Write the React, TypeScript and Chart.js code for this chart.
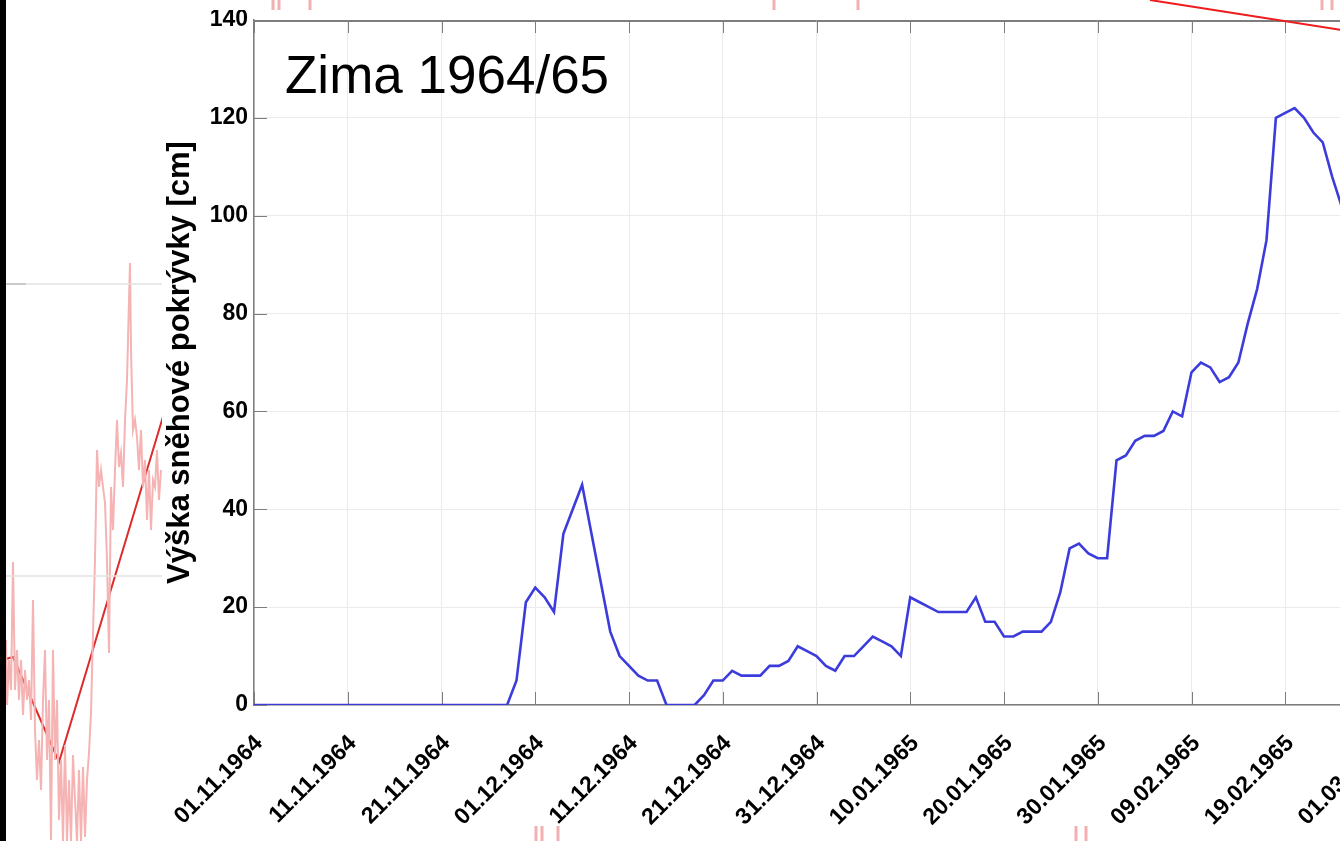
import React, { useEffect, useRef } from 'react';
import { Chart, registerables } from 'chart.js';

Chart.register(...registerables);

// ---------------- main chart data ----------------
// daily snow depth [cm], starting 01.11.1964 (day index 0)
const SNOW_DEPTH_CM: number[] = [
  0, 0, 0, 0, 0, 0, 0, 0, 0, 0,
  0, 0, 0, 0, 0, 0, 0, 0, 0, 0,
  0, 0, 0, 0, 0, 0, 0, 0, 5, 21,
  24, 22, 19, 35, 40, 45, 35, 25, 15, 10,
  8, 6, 5, 5, 0, 0, 0, 0, 2, 5,
  5, 7, 6, 6, 6, 8, 8, 9, 12, 11,
  10, 8, 7, 10, 10, 12, 14, 13, 12, 10,
  22, 21, 20, 19, 19, 19, 19, 22, 17, 17,
  14, 14, 15, 15, 15, 17, 23, 32, 33, 31,
  30, 30, 50, 51, 54, 55, 55, 56, 60, 59,
  68, 70, 69, 66, 67, 70, 78, 85, 95, 120,
  121, 122, 120, 117, 115, 108, 102, 97,
];

const X_TICK_LABELS: string[] = [
  '01.11.1964', '11.11.1964', '21.11.1964', '01.12.1964', '11.12.1964',
  '21.12.1964', '31.12.1964', '10.01.1965', '20.01.1965', '30.01.1965',
  '09.02.1965', '19.02.1965', '01.03.1965',
];
const X_TICK_STEP_DAYS = 10;
const Y_TICKS: number[] = [0, 20, 40, 60, 80, 100, 120, 140];
const Y_AXIS_TITLE = 'Výška sněhové pokrývky [cm]';
const PANEL_TEXT = 'Zima 1964/65';

// ---------------- background (partially hidden figure behind) ----------------
const PINK_X: number[] = [
  6, 7, 9, 11, 13, 15, 17, 19, 21, 23, 25, 27, 29, 31, 33, 35, 37, 39, 41, 43,
  45, 47, 49, 51, 53, 55, 57, 59, 61, 63, 65, 67, 69, 71, 73, 75, 77, 79, 81, 83,
  85, 87, 89, 91, 93, 95, 97, 99, 101, 103, 105, 107, 109, 111, 113, 115, 117, 119, 121, 123,
  125, 127, 129, 130, 131, 133, 135, 137, 139, 141, 143, 145, 147, 149, 151, 153, 155, 157, 159, 161,
];
const PINK_Y: number[] = [
  640, 705, 660, 690, 562, 690, 650, 700, 660, 715, 670, 700, 680, 720, 600, 730, 780, 740, 790, 700,
  650, 760, 700, 840, 650, 760, 700, 820, 760, 841, 745, 841, 780, 841, 755, 800, 841, 770, 841, 767,
  837, 780, 753, 713, 633, 560, 450, 487, 470, 487, 503, 560, 653, 487, 530, 470, 420, 467, 453, 487,
  420, 380, 300, 263, 350, 430, 420, 437, 470, 430, 487, 460, 520, 470, 530, 480, 487, 450, 500, 470,
];
const RED_TREND_X: number[] = [6, 13, 59, 165];
const RED_TREND_Y: number[] = [659, 657, 762, 410];
const GRAY_LINE_1 = { x: [6, 162], y: [284, 284] };
const GRAY_LINE_2 = { x: [6, 162], y: [576, 576] };
const DARK_LINE = { x: [6, 26], y: [284, 284] };
const PINK_BITS_X: number[] = [273, 273, NaN, 279, 279, NaN, 310, 310, NaN, 774, 774, NaN, 858, 858, NaN, 1322, 1322, NaN, 1332, 1332, NaN,
  536, 536, NaN, 542, 542, NaN, 558, 558, NaN, 1076, 1076, NaN, 1086, 1086];
const PINK_BITS_Y: number[] = [0, 10, NaN, 0, 10, NaN, 0, 10, NaN, 0, 10, NaN, 0, 10, NaN, 0, 10, NaN, 0, 10, NaN,
  826, 841, NaN, 826, 841, NaN, 826, 841, NaN, 826, 841, NaN, 826, 841];
const RED_TOP_X: number[] = [1150, 1345];
const RED_TOP_Y: number[] = [0, 30.5];

const AXIS_COLOR = '#7d7d7d';
const GRID_COLOR = '#ebebeb';
const LINE_COLOR = '#3c3cdc';
const TICK_LEN = 13;

const toXY = (xs: number[], ys: number[]) =>
  xs.map((x, i) => ({ x: Number.isNaN(x) ? null : x, y: Number.isNaN(ys[i]) ? null : ys[i] }));

function pixelChartConfig(datasets: any[]): any {
  return {
    type: 'line',
    data: { datasets },
    options: {
      animation: false,
      responsive: false,
      events: [],
      layout: { padding: 0 },
      plugins: { legend: { display: false }, tooltip: { enabled: false } },
      scales: {
        x: { type: 'linear', min: 0, max: 1340, display: false },
        y: { type: 'linear', min: 0, max: 841, reverse: true, display: false },
      },
      elements: { point: { radius: 0 }, line: { tension: 0 } },
    },
  };
}

const boxPlugin = {
  id: 'matlabBox',
  beforeDatasetsDraw(chart: any) {
    const { ctx, chartArea, scales } = chart;
    const { left, right, top, bottom } = chartArea;
    const xs = scales.x;
    const ys = scales.y;
    ctx.save();
    ctx.strokeStyle = AXIS_COLOR;
    ctx.lineWidth = 1;
    const seg = (x1: number, y1: number, x2: number, y2: number) => {
      ctx.beginPath();
      ctx.moveTo(x1, y1);
      ctx.lineTo(x2, y2);
      ctx.stroke();
    };
    seg(left, top + 0.5, right, top + 0.5);
    seg(left, top + 1.5, right, top + 1.5);
    xs.ticks.forEach((t: any) => {
      const px = Math.round(xs.getPixelForValue(t.value)) + 0.5;
      seg(px, bottom, px, bottom - TICK_LEN);
      seg(px, top, px, top + TICK_LEN);
    });
    ys.ticks.forEach((t: any) => {
      const py = Math.round(ys.getPixelForValue(t.value)) + 0.5;
      seg(left, py, left + TICK_LEN, py);
      seg(right, py, right - TICK_LEN, py);
    });
    ctx.restore();
  },
  afterDraw(chart: any) {
    const { ctx, chartArea } = chart;
    ctx.save();
    ctx.font = '53px "Liberation Sans", Arial, sans-serif';
    ctx.fillStyle = '#000';
    ctx.textAlign = 'left';
    ctx.textBaseline = 'alphabetic';
    ctx.fillText(PANEL_TEXT, chartArea.left + 31, chartArea.top + 73);
    ctx.restore();
  },
};

export default function App() {
  const bgRef = useRef<HTMLCanvasElement | null>(null);
  const mainRef = useRef<HTMLCanvasElement | null>(null);
  const fgRef = useRef<HTMLCanvasElement | null>(null);

  useEffect(() => {
    const charts: Chart[] = [];

    if (bgRef.current) {
      charts.push(
        new Chart(bgRef.current, pixelChartConfig([
          { data: toXY(GRAY_LINE_1.x, GRAY_LINE_1.y), borderColor: '#e2e2e2', borderWidth: 1.5 },
          { data: toXY(GRAY_LINE_2.x, GRAY_LINE_2.y), borderColor: '#e2e2e2', borderWidth: 1.5 },
          { data: toXY(DARK_LINE.x, DARK_LINE.y), borderColor: '#555a70', borderWidth: 1.5 },
          { data: toXY(PINK_X, PINK_Y), borderColor: '#f5b3b3', borderWidth: 2 },
          { data: toXY(PINK_BITS_X, PINK_BITS_Y), borderColor: '#f3b0b0', borderWidth: 3, spanGaps: false },
          { data: toXY(RED_TREND_X, RED_TREND_Y), borderColor: '#dd2b2b', borderWidth: 2 },
        ]))
      );
    }

    if (mainRef.current) {
      const tickFont = { family: '"Liberation Sans", Arial, sans-serif', size: 23, weight: 'bold' as const };
      charts.push(
        new Chart(mainRef.current, {
          type: 'line',
          data: {
            datasets: [
              {
                data: SNOW_DEPTH_CM.map((v, i) => ({ x: i, y: v })),
                borderColor: LINE_COLOR,
                borderWidth: 2.6,
                pointRadius: 0,
                tension: 0,
                fill: false,
              },
            ],
          },
          options: {
            animation: false,
            responsive: false,
            events: [],
            layout: { padding: { top: 10, right: 23, left: 0, bottom: 0 } },
            plugins: { legend: { display: false }, tooltip: { enabled: false } },
            scales: {
              x: {
                type: 'linear',
                min: 0,
                max: (X_TICK_LABELS.length - 1) * X_TICK_STEP_DAYS,
                afterBuildTicks: (s: any) => {
                  s.ticks = X_TICK_LABELS.map((_, i) => ({ value: i * X_TICK_STEP_DAYS }));
                },
                afterFit: (s: any) => {
                  s.height = 121;
                  s.paddingLeft = 0;
                  s.paddingRight = 0;
                },
                ticks: {
                  autoSkip: false,
                  maxRotation: 45,
                  minRotation: 45,
                  padding: 25,
                  labelOffset: 5,
                  color: '#000',
                  font: tickFont,
                  callback: (v: any) => X_TICK_LABELS[Math.round(Number(v) / X_TICK_STEP_DAYS)] ?? '',
                },
                grid: { color: GRID_COLOR, drawTicks: false, lineWidth: 1 },
                border: { color: AXIS_COLOR, width: 1.5 },
              },
              y: {
                type: 'linear',
                min: Y_TICKS[0],
                max: Y_TICKS[Y_TICKS.length - 1],
                afterBuildTicks: (s: any) => {
                  s.ticks = Y_TICKS.map((v) => ({ value: v }));
                },
                afterFit: (s: any) => {
                  s.width = 92;
                  s.paddingTop = 0;
                  s.paddingBottom = 0;
                },
                ticks: { padding: 6, color: '#000', font: tickFont },
                grid: { color: GRID_COLOR, drawTicks: false, lineWidth: 1 },
                border: { color: AXIS_COLOR, width: 1.5 },
                title: {
                  display: true,
                  text: Y_AXIS_TITLE,
                  color: '#000',
                  padding: 0,
                  font: { family: '"Liberation Sans", Arial, sans-serif', size: 31, weight: 'bold' },
                },
              },
            },
          },
          plugins: [boxPlugin],
        } as any)
      );
    }

    if (fgRef.current) {
      charts.push(
        new Chart(fgRef.current, pixelChartConfig([
          { data: toXY(RED_TOP_X, RED_TOP_Y), borderColor: '#ee1c1c', borderWidth: 2 },
        ]))
      );
    }

    return () => charts.forEach((c) => c.destroy());
  }, []);

  return (
    <div
      style={{
        position: 'fixed',
        left: 0,
        top: 0,
        width: 1340,
        height: 841,
        overflow: 'hidden',
        background: '#fff',
      }}
    >
      <canvas ref={bgRef} width={1340} height={841} style={{ position: 'absolute', left: 0, top: 0 }} />
      <div style={{ position: 'absolute', left: 0, top: 0, width: 6, height: 841, background: '#000' }} />
      <canvas
        ref={mainRef}
        width={1240}
        height={816}
        style={{ position: 'absolute', left: 162, top: 10, background: '#fff' }}
      />
      <canvas
        ref={fgRef}
        width={1340}
        height={841}
        style={{ position: 'absolute', left: 0, top: 0, pointerEvents: 'none' }}
      />
    </div>
  );
}
